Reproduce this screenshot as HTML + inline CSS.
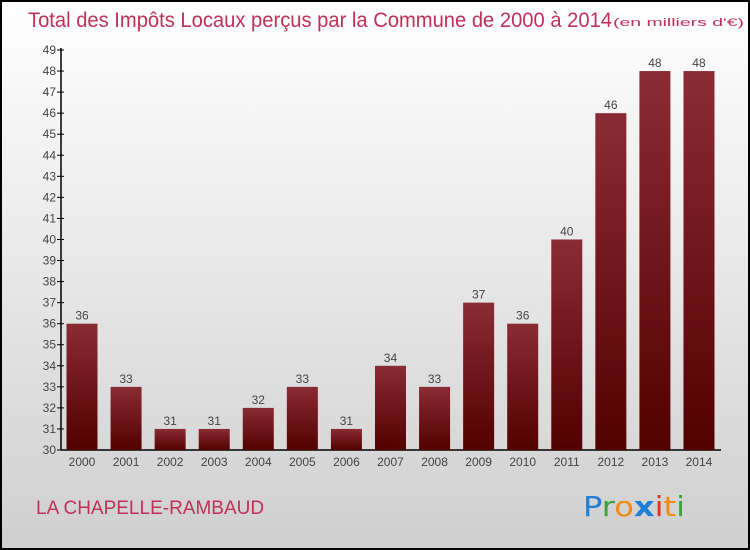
<!DOCTYPE html>
<html><head><meta charset="utf-8"><style>
body{margin:0;width:750px;height:550px;overflow:hidden}
svg{display:block;font-family:"Liberation Sans",sans-serif}
</style></head><body>
<svg width="750" height="550" xmlns="http://www.w3.org/2000/svg">
<defs>
<linearGradient id="bg" x1="0" y1="0" x2="0" y2="1"><stop offset="0" stop-color="#ffffff"/><stop offset="1" stop-color="#cfcfcf"/></linearGradient>
<linearGradient id="bar" x1="0" y1="0" x2="0" y2="1"><stop offset="0" stop-color="#8a2c34"/><stop offset="1" stop-color="#520000"/></linearGradient>
</defs>
<rect x="1" y="1" width="748" height="548" fill="url(#bg)" stroke="#000" stroke-width="2"/>
<text x="28" y="27" font-size="21" fill="#c0305a" textLength="584" lengthAdjust="spacingAndGlyphs">Total des Impôts Locaux perçus par la Commune de 2000 à 2014</text>
<text x="613" y="26" font-size="11" fill="#c0305a" textLength="131" lengthAdjust="spacingAndGlyphs">(en milliers d'€)</text>
<g id="yaxis"></g>
<g id="bars"></g>
<text x="36" y="514" font-size="19" fill="#c0305a">LA CHAPELLE-RAMBAUD</text>
<g font-size="28" font-family="'DejaVu Sans',sans-serif">
<text x="583" y="516" textLength="102" lengthAdjust="spacingAndGlyphs"><tspan fill="#1e7fd6">P</tspan><tspan fill="#3aa33a">r</tspan><tspan fill="#f08a10">o</tspan><tspan fill="#1e7fd6" font-weight="bold">x</tspan><tspan fill="#e83020">i</tspan><tspan fill="#f08a10">t</tspan><tspan fill="#3aa33a">i</tspan></text>
</g>
</svg>
<script>
const years=["2000","2001","2002","2003","2004","2005","2006","2007","2008","2009","2010","2011","2012","2013","2014"];
const values=[36,33,31,31,32,33,31,34,33,37,36,40,46,48,48];
const yTicks=[30,31,32,33,34,35,36,37,38,39,40,41,42,43,44,45,46,47,48,49];
const NS="http://www.w3.org/2000/svg";
const y=v=>450-(v-30)*400/19;
const x=i=>82+i*44.07;
function mk(t,a,p,txt){const e=document.createElementNS(NS,t);for(const k in a)e.setAttribute(k,a[k]);if(txt!==undefined)e.textContent=txt;p.appendChild(e);return e;}
const ya=document.getElementById('yaxis'),bg=document.getElementById('bars');
mk('line',{x1:61,y1:48,x2:61,y2:450,stroke:'#000','stroke-width':1.5},ya);
mk('line',{x1:61,y1:450,x2:721,y2:450,stroke:'#000','stroke-width':1.5},ya);
yTicks.forEach(v=>{
 const l=mk('line',{x1:57,y1:y(v),x2:64,y2:y(v),stroke:'#000'},ya);
 
 
 const t=mk('text',{x:56,y:y(v)+4,'font-size':12,fill:'#444','text-anchor':'end'},ya,v);
 
 
});
years.forEach((yr,i)=>{
 const r=mk('rect',{x:x(i)-15.5,y:y(values[i]),width:31,height:450-y(values[i]),fill:'url(#bar)'},bg);
 
 
 const t=mk('text',{x:x(i),y:y(values[i])-4,'font-size':12,fill:'#444','text-anchor':'middle'},bg,values[i]);
 
 
 const xl=mk('text',{x:x(i),y:466,'font-size':12,fill:'#444','text-anchor':'middle'},bg,yr);
 
 
});
</script>
</body></html>
